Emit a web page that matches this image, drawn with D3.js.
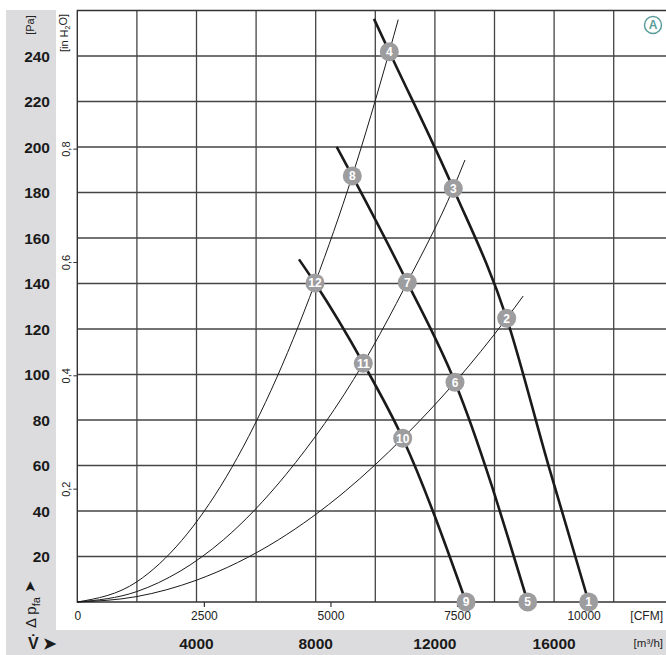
<!DOCTYPE html>
<html>
<head>
<meta charset="utf-8">
<script src="https://cdn.jsdelivr.net/npm/d3@7"></script>
<style>
  body { margin: 0; background: #fff; }
  svg text { font-family: "Liberation Sans", Arial, sans-serif; }
</style>
</head>
<body>
<svg id="chart" width="666" height="655"></svg>
<script>
// fan curves, [m3/h, Pa]
var fanCurve1 = [[9956, 256.3], [10470, 241.9], [12617, 181.8], [14409, 124.7], [15800, 60.5], [17161, 0]];
var fanCurve2 = [[8705, 200.1], [9228, 187.3], [11074, 140.5], [12674, 96.6], [15114, 0]];
var fanCurve3 = [[7440, 150.6], [7977, 140.2], [9597, 104.9], [10919, 72.0], [13044, 0]];
// system curves
var sysCurve1 = [[0, 0], [2000, 8.9], [3500, 27], [5000, 55], [6500, 93], [7977, 140.2],
    [9228, 187.3], [10470, 241.9], [10770, 256]];
var sysCurve2 = [[0, 0], [2000, 4.6], [4900, 27.3], [7000, 56], [9597, 104.9], [11074, 140.5],
    [12617, 181.8], [13010, 194.3]];
var sysCurve3 = [[0, 0], [2000, 2.4], [4000, 9.6], [6745, 27.3], [9000, 48.8], [10919, 72],
    [12674, 96.6], [14409, 124.7], [14963, 134.5]];
// numbered operating points
var pointLabels = ["1", "2", "3", "4", "5", "6", "7", "8", "9", "10", "11", "12"];
var pointQ = [17161, 14409, 12617, 10470, 15114, 12674, 11074, 9228, 13044, 10919, 9597, 7977];
var pointP = [0, 124.7, 181.8, 241.9, 0, 96.6, 140.5, 187.3, 0, 72.0, 104.9, 140.2];
// ticks
var paTicks = [20, 40, 60, 80, 100, 120, 140, 160, 180, 200, 220, 240];
var inH2OTicks = [0.2, 0.4, 0.6, 0.8];
var cfmTicks = [0, 2500, 5000, 7500, 10000];
var m3hTicks = [4000, 8000, 12000, 16000];
var m3hGrid = [2000, 4000, 6000, 8000, 10000, 12000, 14000, 16000, 18000];

var svg = d3.select("#chart");
var x = d3.scaleLinear().domain([0, 20000]).range([77.3, 673.3]);
var xCfm = d3.scaleLinear().domain([0, 20000 / 1.699]).range([77.3, 673.3]);
var y = d3.scaleLinear().domain([0, 260]).range([602, 10.5]);
var yIn = d3.scaleLinear().domain([0, 260 / 249.09]).range([602, 10.5]);

// grey bands
svg.append("path")
    .attr("d", "M6,10 H56 V630 H666 V655 H6 Z")
    .attr("fill", "#dcdcde");

// grid
var grid = svg.append("g").attr("stroke", "#444").attr("stroke-width", 1.3);
grid.selectAll(".hg").data(paTicks).enter().append("line")
    .attr("x1", x(0)).attr("x2", 666)
    .attr("y1", function (d) { return y(d); })
    .attr("y2", function (d) { return y(d); });
grid.selectAll(".vg").data(m3hGrid).enter().append("line")
    .attr("y1", y(260)).attr("y2", y(0))
    .attr("x1", function (d) { return x(d); })
    .attr("x2", function (d) { return x(d); });

// frame
svg.append("path")
    .attr("d", "M666," + y(260) + " H" + x(0) + " V" + y(0) + " H666")
    .attr("fill", "none").attr("stroke", "#333").attr("stroke-width", 1.4);

// CFM axis
var cfmAxis = d3.axisBottom(xCfm).tickValues(cfmTicks).tickSize(5).tickPadding(4)
    .tickFormat(d3.format("d"));
var gCfm = svg.append("g").attr("transform", "translate(0," + y(0) + ")").call(cfmAxis);
gCfm.select(".domain").remove();
gCfm.selectAll("line").attr("stroke", "#333").attr("stroke-width", 1.2);
gCfm.selectAll("text").attr("font-size", 12).attr("fill", "#222")
    .style("font-family", "'Liberation Sans', sans-serif");
gCfm.selectAll(".tick").filter(function (d) { return d === 0; }).select("line").remove();

// in H2O axis
var inAxis = d3.axisLeft(yIn).tickValues(inH2OTicks).tickSize(4).tickPadding(0)
    .tickFormat(function (d) { return d3.format(".1f")(d).replace(".", ","); });
var gIn = svg.append("g").attr("transform", "translate(" + x(0) + ",0)").call(inAxis);
gIn.select(".domain").remove();
gIn.selectAll("line").attr("stroke", "#333");
gIn.selectAll("text").attr("font-size", 11).attr("fill", "#222")
    .attr("text-anchor", "middle")
    .attr("transform", "translate(-11,0) rotate(-90)")
    .attr("x", 0).attr("dy", "0.35em")
    .style("font-family", "'Liberation Sans', sans-serif");

// Pa labels
svg.selectAll(".pa").data(paTicks).enter().append("text")
    .attr("x", 50).attr("y", function (d) { return y(d); })
    .attr("dy", "0.36em").attr("text-anchor", "end")
    .attr("font-size", 15.5).attr("font-weight", "bold").attr("fill", "#1a1a1a")
    .text(function (d) { return d; });

// m3/h labels
svg.selectAll(".m3").data(m3hTicks).enter().append("text")
    .attr("x", function (d) { return x(d); }).attr("y", 643)
    .attr("dy", "0.36em").attr("text-anchor", "middle")
    .attr("font-size", 15.5).attr("font-weight", "bold").attr("fill", "#1a1a1a")
    .text(function (d) { return d; });

// unit labels
svg.append("text").attr("x", 663).attr("y", 616).attr("dy", "0.36em")
    .attr("text-anchor", "end").attr("font-size", 12).attr("fill", "#222").text("[CFM]");
svg.append("text").attr("x", 663).attr("y", 643).attr("dy", "0.36em")
    .attr("text-anchor", "end").attr("font-size", 11.5).attr("fill", "#222").text("[m³/h]");
svg.append("text").attr("transform", "translate(30,25) rotate(-90)").attr("dy", "0.36em")
    .attr("text-anchor", "middle").attr("font-size", 11).attr("fill", "#222").text("[Pa]");
var inLab = svg.append("text").attr("transform", "translate(64,33) rotate(-90)").attr("dy", "0.36em")
    .attr("text-anchor", "middle").attr("font-size", 11).attr("fill", "#222");
inLab.append("tspan").text("[in H");
inLab.append("tspan").attr("font-size", 7).attr("dy", "0.3em").text("2");
inLab.append("tspan").attr("dy", "-0.3em").text("O]");

// axis symbols
var dp = svg.append("text").attr("transform", "translate(31,628) rotate(-90)").attr("dy", "0.36em")
    .attr("font-size", 15).attr("fill", "#1a1a1a");
dp.append("tspan").text("Δ p");
dp.append("tspan").attr("font-size", 11).attr("dy", "0.35em").text("fa");
dp.append("tspan").attr("dy", "-0.35em").attr("font-size", 15).text(" ➤");
svg.append("text").attr("x", 28).attr("y", 643).attr("dy", "0.36em")
    .attr("font-size", 16).attr("font-weight", "bold").attr("fill", "#1a1a1a").text("V̇ ➤");

// curves
var sysLine = d3.line()
    .x(function (d) { return x(d[0]); })
    .y(function (d) { return y(d[1]); })
    .curve(d3.curveMonotoneX);
var fanLine = d3.line()
    .x(function (d) { return x(d[0]); })
    .y(function (d) { return y(d[1]); })
    .curve(d3.curveMonotoneX);
var curves = svg.append("g").attr("fill", "none");
[sysCurve1, sysCurve2, sysCurve3].forEach(function (c) {
    curves.append("path").attr("d", sysLine(c)).attr("stroke", "#1a1a1a").attr("stroke-width", 1);
});
[fanCurve1, fanCurve2, fanCurve3].forEach(function (c) {
    curves.append("path").attr("d", fanLine(c)).attr("stroke", "#1a1a1a").attr("stroke-width", 2.6);
});

// markers
var mk = svg.selectAll(".mk").data(pointLabels).enter().append("g")
    .attr("transform", function (d, i) { return "translate(" + x(pointQ[i]) + "," + y(pointP[i]) + ")"; });
mk.append("circle").attr("r", 9.5).attr("fill", "#9d9d9f");
mk.append("text").attr("text-anchor", "middle").attr("dy", "0.36em")
    .attr("font-size", 12).attr("font-weight", "bold").attr("fill", "#fff")
    .text(function (d) { return d; });

// A badge
var badge = svg.append("g").attr("transform", "translate(653,25)");
badge.append("circle").attr("r", 8.5).attr("fill", "#fff").attr("stroke", "#5a9e9b").attr("stroke-width", 1.5);
badge.append("text").attr("text-anchor", "middle").attr("dy", "0.36em")
    .attr("font-size", 12).attr("font-weight", "bold").attr("fill", "#5a9e9b").text("A");
</script>
</body>
</html>
